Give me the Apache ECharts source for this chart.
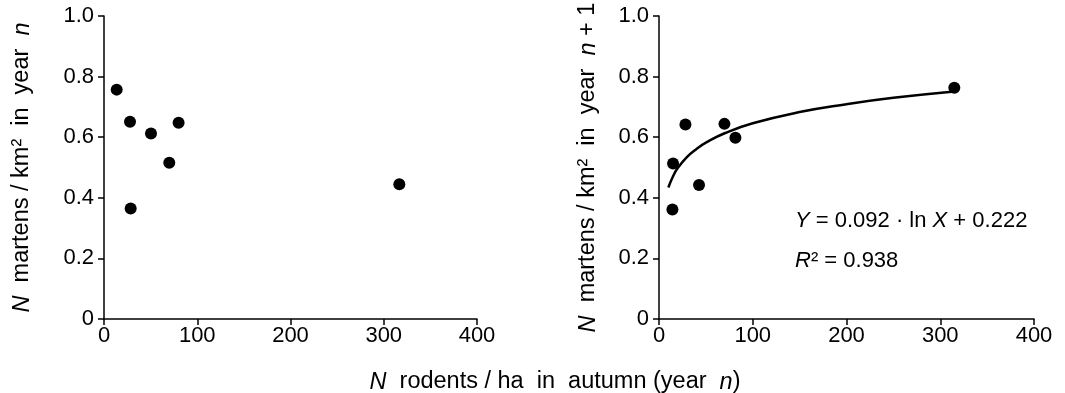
<!DOCTYPE html>
<html lang="en">
<head>
    <meta charset="utf-8">
    <title>martens vs rodents</title>
    <script src="https://cdn.jsdelivr.net/npm/echarts@6/dist/echarts.min.js"></script>
    <style>
        html, body {margin: 0; padding: 0; background: #fff;}
        #main {width: 1065px; height: 393px;}
    </style>
</head>
<body>
<div id="main"></div>
<script>
    // rodents (x) and martens same year (y), left panel
    var rodentsSame = [13.6, 27.9, 50.4, 80, 70, 28.6, 316.7];
    var martensSame = [0.757, 0.651, 0.612, 0.648, 0.516, 0.365, 0.445];
    // rodents (x) and martens next year (y), right panel
    var rodentsNext = [315, 15, 14.3, 28.2, 42.7, 69.8, 81.5];
    var martensNext = [0.763, 0.513, 0.361, 0.642, 0.442, 0.644, 0.598];
    // fitted curve
    var curveX = [10, 15, 20, 30, 40, 50, 70, 100, 150, 200, 250, 315];
    var curveY = [0.434, 0.471, 0.498, 0.535, 0.561, 0.582, 0.613, 0.646, 0.683, 0.709, 0.730, 0.751];
    var xTicks = [0, 100, 200, 300, 400];
    var yTicks = [0, 0.2, 0.4, 0.6, 0.8, 1.0];

    var FONT = 'Liberation Sans';
    var FS = 22;      // tick labels, formula
    var FS_NAME = 23.5; // axis titles
    function italic(size) {
        return {i: {fontStyle: 'italic', fontSize: size, fontFamily: FONT, color: '#000'}};
    }

    function pairs(xs, ys) {
        return xs.map(function (x, i) { return [x, ys[i]]; });
    }

    function xAxis(idx) {
        return {
            type: 'value', gridIndex: idx, min: 0, max: 400, interval: 100,
            axisLine: {lineStyle: {color: '#000', width: 1.5}},
            axisTick: {lineStyle: {color: '#000', width: 1.5}, length: 6},
            axisLabel: {color: '#000', fontSize: FS, fontFamily: FONT, margin: 6,
                formatter: function (v) { return xTicks.indexOf(v) >= 0 ? String(v) : ''; }},
            splitLine: {show: false}
        };
    }

    function yAxis(idx, name, gap) {
        return {
            type: 'value', gridIndex: idx, min: 0, max: 1, interval: 0.2,
            name: name, nameLocation: 'middle', nameGap: gap, nameRotate: 90,
            nameTextStyle: {color: '#000', fontSize: FS_NAME, fontFamily: FONT, rich: italic(FS_NAME)},
            axisLine: {show: true, lineStyle: {color: '#000', width: 1.5}},
            axisTick: {show: true, lineStyle: {color: '#000', width: 1.5}, length: 6},
            axisLabel: {color: '#000', fontSize: FS, fontFamily: FONT, margin: 10,
                formatter: function (v) { return v === 0 ? '0' : v.toFixed(1); }},
            splitLine: {show: false}
        };
    }

    var myChart = echarts.init(document.getElementById('main'));

    var option = {
        backgroundColor: '#fff',
        animation: false,
        grid: [
            {left: 104, top: 16, width: 373, height: 303},
            {left: 659, top: 16, width: 375, height: 303}
        ],
        xAxis: [xAxis(0), xAxis(1)],
        yAxis: [
            yAxis(0, '{i|N}  martens / km²  in  year  {i|n}', 70),
            yAxis(1, '{i|N}  martens / km²  in  year  {i|n} + 1', 59)
        ],
        graphic: [
            {type: 'text', style: {
                x: 555, y: 382, align: 'center', verticalAlign: 'middle',
                text: '{i|N}  rodents / ha  in  autumn (year  {i|n})',
                font: FS_NAME + 'px ' + FONT, fill: '#000', rich: italic(FS_NAME)}},
            {type: 'text', style: {
                x: 795, y: 221, verticalAlign: 'middle',
                text: '{i|Y} = 0.092 · ln {i|X} + 0.222',
                font: FS + 'px ' + FONT, fill: '#000', rich: italic(FS)}},
            {type: 'text', style: {
                x: 795, y: 261, verticalAlign: 'middle',
                text: '{i|R}² = 0.938',
                font: FS + 'px ' + FONT, fill: '#000', rich: italic(FS)}}
        ],
        series: [
            {
                type: 'scatter', xAxisIndex: 0, yAxisIndex: 0,
                symbolSize: 12, itemStyle: {color: '#000', opacity: 1},
                data: pairs(rodentsSame, martensSame)
            },
            {
                type: 'line', xAxisIndex: 1, yAxisIndex: 1, smooth: true,
                showSymbol: false, lineStyle: {color: '#000', width: 2.5},
                data: pairs(curveX, curveY)
            },
            {
                type: 'scatter', xAxisIndex: 1, yAxisIndex: 1,
                symbolSize: 12, itemStyle: {color: '#000', opacity: 1},
                data: pairs(rodentsNext, martensNext)
            }
        ]
    };

    myChart.setOption(option);
</script>
</body>
</html>
